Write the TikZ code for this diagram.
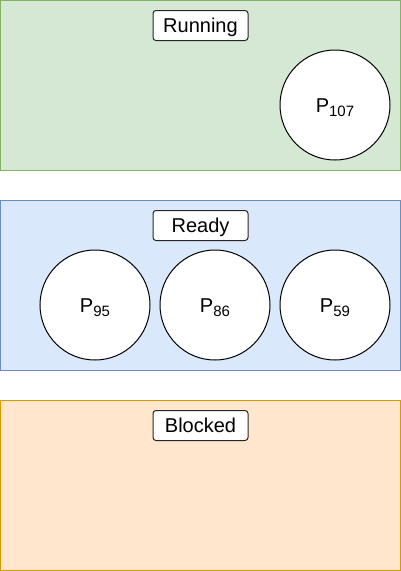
\documentclass[tikz,border=0pt]{standalone}
\usepackage{fontspec}
\setmainfont{Liberation Sans}
\definecolor{gfill}{HTML}{D5E8D4}\definecolor{gdraw}{HTML}{82B366}
\definecolor{bfill}{HTML}{DAE8FC}\definecolor{bdraw}{HTML}{6C8EBF}
\definecolor{ofill}{HTML}{FFE6CC}\definecolor{odraw}{HTML}{D79B00}
\newcommand{\proc}[1]{\fontsize{20}{24}\selectfont P\raisebox{-4pt}{\fontsize{15}{18}\selectfont #1}}
\begin{document}
\begin{tikzpicture}[x=1pt,y=-1pt,line width=1pt,
  zone/.style={draw=#1draw,fill=#1fill},
  lbl/.style={draw=black!85,fill=white,rounded corners=3pt,minimum width=95pt,minimum height=30pt,inner sep=0pt,text height=14.3pt,text depth=0pt,font=\fontsize{20}{24}\selectfont},
  proc/.style={circle,draw=black,fill=white,minimum size=110pt,inner sep=0pt,text height=14pt,text depth=0pt}]
\useasboundingbox (0,0) rectangle (401,571);
\draw[zone=g] (0.5,0.5) rectangle (400.5,170.5);
\draw[zone=b] (0.5,200.5) rectangle (400.5,370.5);
\draw[zone=o] (0.5,400.5) rectangle (400.5,570.5);
\node[lbl] (running) at (200.5,25.5) {Running};
\node[lbl] (ready) at (200.5,225.5) {Ready};
\node[lbl] (blocked) at (200.5,425.5) {Blocked};
\node[proc] (p107) at (335,105) {\proc{107}};
\node[proc] (p95) at (95,305) {\proc{95}};
\node[proc] (p86) at (215,305) {\proc{86}};
\node[proc] (p59) at (335,305) {\proc{59}};
\end{tikzpicture}
\end{document}
